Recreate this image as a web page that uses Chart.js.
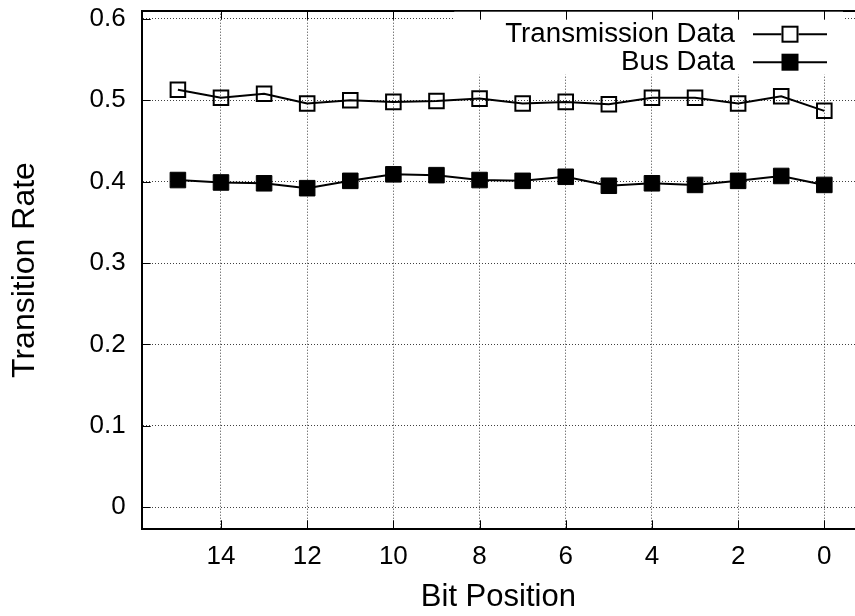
<!DOCTYPE html>
<html>
<head>
<meta charset="utf-8">
<script src="https://cdn.jsdelivr.net/npm/chart.js@4.4.1/dist/chart.umd.min.js"></script>
<style>
  html, body { margin: 0; padding: 0; background: #fff; overflow: hidden; }
  #wrap { width: 855px; height: 616px; }
</style>
</head>
<body>
<div id="wrap"><canvas id="c" width="855" height="616"></canvas></div>
<script>
// Per-bit transition rates, bit 15 (MSB) down to bit 0
const bitPositions = [15, 14, 13, 12, 11, 10, 9, 8, 7, 6, 5, 4, 3, 2, 1, 0];
const transmissionRate = [0.513, 0.503, 0.508, 0.496, 0.500, 0.498, 0.499, 0.502,
                          0.496, 0.498, 0.495, 0.503, 0.503, 0.496, 0.505, 0.487];
const busRate = [0.402, 0.399, 0.398, 0.392, 0.401, 0.409, 0.408, 0.402,
                 0.401, 0.406, 0.395, 0.398, 0.396, 0.401, 0.407, 0.396];
const seriesNames = ['Transmission Data', 'Bus Data'];
const xTickValues = [14, 12, 10, 8, 6, 4, 2, 0];
const yTickValues = [0, 0.1, 0.2, 0.3, 0.4, 0.5, 0.6];

const FONT = "'Liberation Sans', Arial, Helvetica, sans-serif";
Chart.defaults.font.family = FONT;
Chart.defaults.color = '#000';

const toPoints = vals => bitPositions.map((b, i) => ({ x: b, y: vals[i] }));

// Fixed axis box sizes; no extra room reserved for overhanging end labels
const fixSize = (w, h) => s => {
  if (w !== null) s.width = w;
  if (h !== null) s.height = h;
  s.paddingTop = 0; s.paddingBottom = 0; s.paddingLeft = 0; s.paddingRight = 0;
};

// Key box in the upper right: opaque, hides the grid behind it
const keyBox = {
  id: 'keyBox',
  beforeDatasetsDraw(chart, args, o) {
    const { ctx, chartArea } = chart;
    ctx.save();
    ctx.font = o.fontSize + 'px ' + FONT;
    const right = chartArea.right - o.rightInset;
    const textRight = right - o.textOffset;
    const widest = Math.max(...chart.data.datasets.map(d => ctx.measureText(d.label).width));
    const left = textRight - widest - o.leftPad;
    ctx.fillStyle = '#fff';
    ctx.fillRect(left, chartArea.top + 1, right - left, o.height);
    chart.data.datasets.forEach((ds, i) => {
      const y = chartArea.top + o.firstRow + i * o.rowGap;
      ctx.fillStyle = '#000';
      ctx.textAlign = 'right';
      ctx.textBaseline = 'middle';
      ctx.fillText(ds.label, textRight, y);
      ctx.strokeStyle = '#000';
      ctx.lineWidth = 2;
      ctx.beginPath();
      ctx.moveTo(right - o.sampleStart, y);
      ctx.lineTo(right - o.sampleEnd, y);
      ctx.stroke();
      const mx = right - (o.sampleStart + o.sampleEnd) / 2;
      const s = o.markerSize;
      if (ds.filledMarker) {
        ctx.fillRect(mx - s / 2, y - s / 2, s, s);
      } else {
        ctx.fillStyle = '#fff';
        ctx.fillRect(mx - s / 2, y - s / 2, s, s);
        ctx.strokeRect(mx - s / 2 + 1, y - s / 2 + 1, s - 2, s - 2);
      }
    });
    ctx.restore();
  }
};

// Tick marks pointing into the plot area on bottom, top and left edges
const innerTicks = {
  id: 'innerTicks',
  afterDatasetsDraw(chart, args, o) {
    const { ctx, chartArea, scales } = chart;
    ctx.save();
    ctx.strokeStyle = '#000';
    ctx.lineWidth = o.width;
    ctx.beginPath();
    xTickValues.forEach(v => {
      const px = Math.round(scales.x.getPixelForValue(v)) + 0.5;
      ctx.moveTo(px, chartArea.bottom);
      ctx.lineTo(px, chartArea.bottom - o.length);
      ctx.moveTo(px, chartArea.top);
      ctx.lineTo(px, chartArea.top + o.length);
    });
    yTickValues.forEach(v => {
      const py = Math.round(scales.y.getPixelForValue(v)) + 0.5;
      ctx.moveTo(chartArea.left, py);
      ctx.lineTo(chartArea.left + o.length, py);
    });
    ctx.stroke();
    ctx.restore();
  }
};

const dottedGrid = {
  display: true,
  color: 'rgba(0,0,0,0.75)',
  lineWidth: 1,
  drawTicks: false
};

new Chart(document.getElementById('c'), {
  type: 'line',
  data: {
    datasets: [
      {
        label: seriesNames[0],
        data: toPoints(transmissionRate),
        borderColor: '#000',
        borderWidth: 2,
        pointStyle: 'rect',
        pointRadius: 10.3,
        pointBorderWidth: 2,
        pointBorderColor: '#000',
        pointBackgroundColor: 'rgba(0,0,0,0)',
        fill: false,
        tension: 0,
        filledMarker: false
      },
      {
        label: seriesNames[1],
        data: toPoints(busRate),
        borderColor: '#000',
        borderWidth: 2,
        pointStyle: 'rect',
        pointRadius: 11,
        pointBorderWidth: 1,
        pointBorderColor: '#000',
        pointBackgroundColor: '#000',
        fill: false,
        tension: 0,
        filledMarker: true
      }
    ]
  },
  options: {
    responsive: false,
    animation: false,
    events: [],
    layout: { padding: 0, autoPadding: false },
    plugins: {
      legend: { display: false },
      tooltip: { enabled: false },
      keyBox: {
        fontSize: 27.7, rightInset: 12, textOffset: 108, leftPad: 51, height: 63,
        firstRow: 23.5, rowGap: 28, sampleStart: 90, sampleEnd: 16, markerSize: 17
      },
      innerTicks: { length: 9, width: 1 }
    },
    scales: {
      x: {
        type: 'linear',
        position: 'bottom',
        reverse: true,
        min: -0.712,
        max: 15.84,
        afterBuildTicks: s => { s.ticks = xTickValues.map(v => ({ value: v })); },
        afterFit: fixSize(null, 86.7),
        ticks: { font: { size: 26 }, padding: 11.8, maxRotation: 0, autoSkip: false },
        grid: { ...dottedGrid },
        border: { display: true, color: '#000', width: 2, dash: [1, 2] },
        title: { display: true, text: 'Bit Position', font: { size: 31 }, padding: { top: 0, bottom: 0 } }
      },
      x2: {
        type: 'linear',
        position: 'top',
        reverse: true,
        min: -0.712,
        max: 15.84,
        afterFit: fixSize(null, 10.7),
        ticks: { display: false },
        grid: { display: false, drawTicks: false },
        border: { display: true, color: '#000', width: 2 }
      },
      y: {
        type: 'linear',
        position: 'left',
        min: -0.027,
        max: 0.61,
        afterBuildTicks: s => { s.ticks = yTickValues.map(v => ({ value: v })); },
        afterFit: fixSize(141.7, null),
        ticks: {
          font: { size: 26 },
          padding: 16,
          callback: v => (v === 0 ? '0' : v.toFixed(1))
        },
        grid: { ...dottedGrid },
        border: { display: true, color: '#000', width: 2, dash: [1, 2] },
        title: { display: true, text: 'Transition Rate', font: { size: 32 }, padding: { top: 5.8, bottom: 0 } }
      }
    }
  },
  plugins: [keyBox, innerTicks]
});
</script>
</body>
</html>
